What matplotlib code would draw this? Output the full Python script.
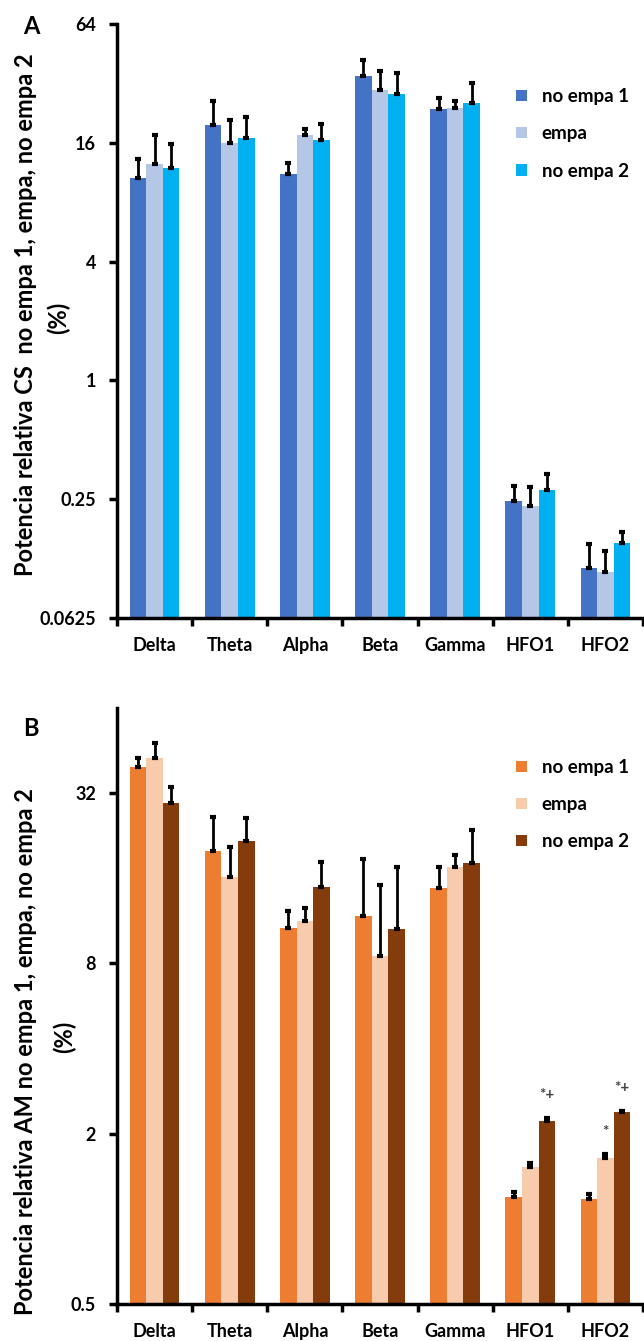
import matplotlib.pyplot as plt
import numpy as np

plt.rcParams['font.family'] = ['Lato', 'DejaVu Sans']

bandas = ['Delta', 'Theta', 'Alpha', 'Beta', 'Gamma', 'HFO1', 'HFO2']
series = ['no empa 1', 'empa', 'no empa 2']

# A: CS
cs_no1 = [10.6, 19.7, 11.1, 34.7, 23.8, 0.245, 0.112]
cs_empa = [12.5, 16.0, 17.6, 29.5, 24.1, 0.232, 0.107]
cs_no2 = [11.9, 16.9, 16.6, 28.4, 25.6, 0.277, 0.150]
cs_no1_err = [2.6, 6.5, 1.5, 7.3, 3.1, 0.046, 0.037]
cs_empa_err = [5.0, 4.8, 1.3, 7.3, 2.1, 0.055, 0.030]
cs_no2_err = [3.8, 4.8, 3.4, 7.7, 6.4, 0.060, 0.020]

# B: AM
am_no1 = [39.5, 19.9, 10.7, 11.8, 14.8, 1.19, 1.18]
am_empa = [42.6, 16.2, 11.3, 8.5, 17.5, 1.52, 1.64]
am_no2 = [29.6, 21.7, 14.9, 10.6, 18.1, 2.21, 2.38]
am_no1_err = [3.2, 6.5, 1.6, 6.9, 2.8, 0.055, 0.045]
am_empa_err = [5.4, 4.5, 1.3, 6.7, 1.9, 0.06, 0.05]
am_no2_err = [4.1, 4.4, 3.3, 7.0, 5.6, 0.07, 0.03]

# marcas de significancia (banda, serie, texto)
marcas_b = [(5, 2, '*+'), (6, 1, '*'), (6, 2, '*+')]

colores_a = ['#4472C4', '#B4C7E7', '#00B0F0']
colores_b = ['#ED7D31', '#F8CBAD', '#843C0C']

fig = plt.figure(figsize=(6.44, 13.41), dpi=100)
axA = fig.add_axes([117 / 644, 1 - 618 / 1341, 526 / 644, 594 / 1341])
axB = fig.add_axes([117 / 644, 1 - 1304 / 1341, 526 / 644, 596 / 1341])

x = np.arange(len(bandas))
w = 0.22


def panel(ax, vals, errs, colores, ymin, ymax, yticks, yticklabels, ley_y):
    for i, (v, e, c, nombre) in enumerate(zip(vals, errs, colores, series)):
        pos = x + (i - 1) * w
        ax.bar(pos, v, width=w, color=c, label=nombre, zorder=2)
        ax.errorbar(pos, v, yerr=[np.zeros(len(v)), e], fmt='none', ecolor='k',
                    elinewidth=2, capsize=2, capthick=3, zorder=3)
    ax.set_yscale('log', base=2)
    ax.set_ylim(ymin, ymax)
    ax.set_xlim(-0.5, len(bandas) - 0.5)
    ax.set_yticks(yticks)
    ax.set_yticklabels(yticklabels)
    ax.minorticks_off()
    ax.set_xticks(np.arange(len(bandas) + 1) - 0.5)
    ax.set_xticklabels([])
    ax.set_xticks(x, minor=True)
    ax.set_xticklabels(bandas, minor=True)
    ax.tick_params(axis='x', which='minor', length=0, pad=14, labelsize=13)
    ax.tick_params(axis='x', which='major', length=6, width=2.5, direction='out')
    ax.tick_params(axis='y', length=6, width=2.5, labelsize=13, pad=9)
    for lab in ax.get_xticklabels(minor=True) + ax.get_yticklabels():
        lab.set_fontweight('bold')
    for s in ['top', 'right']:
        ax.spines[s].set_visible(False)
    for s in ['left', 'bottom']:
        ax.spines[s].set_linewidth(2.5)
    ax.legend(loc='upper left', bbox_to_anchor=(0.727, ley_y), frameon=False,
              handlelength=0.55, handleheight=0.55, handletextpad=0.8,
              labelspacing=1.07, prop={'weight': 'bold', 'size': 13.5})


panel(axA, [cs_no1, cs_empa, cs_no2], [cs_no1_err, cs_empa_err, cs_no2_err],
      colores_a, 0.0625, 64, [0.0625, 0.25, 1, 4, 16, 64],
      ['0.0625', '0.25', '1', '4', '16', '64'], 0.92)
axA.set_ylabel('Potencia relativa CS  no empa 1, empa, no empa 2',
               fontsize=17, fontweight='bold')
axA.yaxis.set_label_coords(-0.152, 0.511)

panel(axB, [am_no1, am_empa, am_no2], [am_no1_err, am_empa_err, am_no2_err],
      colores_b, 0.5, 64, [0.5, 2, 8, 32], ['0.5', '2', '8', '32'], 0.943)
axB.set_ylabel('Potencia relativa AM no empa 1, empa, no empa 2',
               fontsize=17, fontweight='bold')
axB.yaxis.set_label_coords(-0.152, 0.424)

# segunda linea de las etiquetas
fig.text(58 / 644, 1 - 318 / 1341, '(%)', rotation=90, fontsize=17,
         fontweight='bold', ha='center', va='center')
fig.text(64 / 644, 1 - 1037 / 1341, '(%)', rotation=90, fontsize=17,
         fontweight='bold', ha='center', va='center')

vals_b = [am_no1, am_empa, am_no2]
errs_b = [am_no1_err, am_empa_err, am_no2_err]
for b, s, t in marcas_b:
    top = vals_b[s][b] + errs_b[s][b]
    axB.text(x[b] + (s - 1) * w, top * 1.2, t, ha='center', va='center',
             fontsize=11, color='#404040', fontweight='bold')

fig.text(23 / 644, 1 - 27 / 1341, 'A', fontsize=17, fontweight='bold', va='center')
fig.text(23 / 644, 1 - 729 / 1341, 'B', fontsize=17, fontweight='bold', va='center')

fig.savefig('out.png', dpi=100)
